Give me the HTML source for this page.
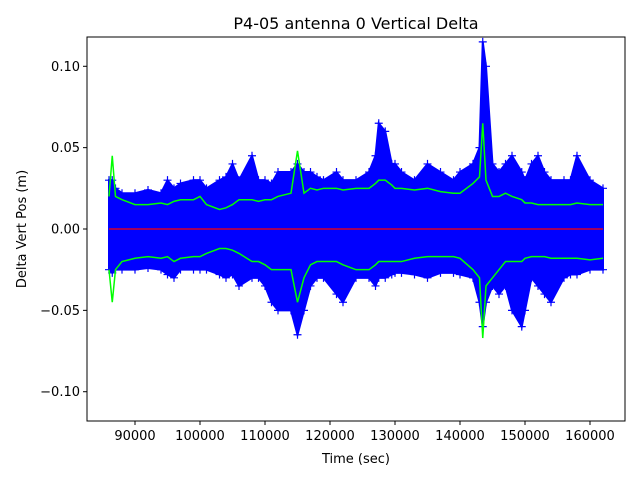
<!DOCTYPE html>
<html><head><meta charset="utf-8"><style>
body{margin:0;background:#fff;font-family:"Liberation Sans","DejaVu Sans",sans-serif}
svg text{font-family:"DejaVu Sans","Liberation Sans",sans-serif;font-size:13px;fill:#000}
</style></head><body>
<svg id="chart" width="640" height="480">
<rect width="640" height="480" fill="#fff"/>
<text x="356" y="29" text-anchor="middle" style="font-size:16px">P4-05 antenna 0 Vertical Delta</text>
<g id="plot"></g>
<g id="axes"></g>
<text x="356" y="463" text-anchor="middle">Time (sec)</text>
<text transform="translate(26,229) rotate(-90)" text-anchor="middle">Delta Vert Pos (m)</text>
</svg>
<script>
const times = [86000,86500,87000,88000,90000,92000,94000,95000,96000,97000,99000,100000,101000,103000,104000,105000,106000,108000,109000,110000,111000,112000,114000,115000,116000,117000,118000,119000,121000,122000,124000,126000,127000,127500,128500,129500,130000,131000,133000,135000,137000,139000,140000,142000,143000,143500,144000,145000,146000,147000,148000,149500,150000,151000,152000,153000,154000,156000,157000,158000,160000,162000];
const blueHigh = [0.03,0.03,0.025,0.022,0.022,0.024,0.022,0.03,0.025,0.028,0.03,0.03,0.025,0.03,0.032,0.04,0.03,0.045,0.03,0.03,0.028,0.035,0.035,0.04,0.035,0.035,0.032,0.03,0.035,0.03,0.03,0.035,0.045,0.065,0.06,0.04,0.04,0.035,0.03,0.04,0.035,0.03,0.035,0.04,0.05,0.115,0.1,0.04,0.035,0.04,0.045,0.035,0.03,0.04,0.045,0.035,0.03,0.03,0.03,0.045,0.03,0.025];
const blueLow = [-0.025,-0.027,-0.025,-0.025,-0.025,-0.024,-0.025,-0.028,-0.03,-0.025,-0.025,-0.025,-0.025,-0.028,-0.03,-0.028,-0.035,-0.03,-0.03,-0.035,-0.045,-0.05,-0.05,-0.065,-0.05,-0.035,-0.03,-0.03,-0.04,-0.045,-0.03,-0.03,-0.035,-0.03,-0.03,-0.028,-0.027,-0.027,-0.028,-0.03,-0.027,-0.027,-0.028,-0.03,-0.045,-0.06,-0.045,-0.035,-0.04,-0.035,-0.05,-0.06,-0.05,-0.03,-0.035,-0.04,-0.045,-0.03,-0.028,-0.028,-0.025,-0.025];
const greenHigh = [0.02,0.045,0.02,0.018,0.015,0.015,0.016,0.015,0.017,0.018,0.018,0.02,0.015,0.012,0.013,0.015,0.018,0.018,0.017,0.018,0.018,0.02,0.022,0.048,0.022,0.025,0.024,0.025,0.025,0.024,0.025,0.025,0.028,0.03,0.03,0.027,0.025,0.025,0.024,0.025,0.023,0.022,0.022,0.028,0.032,0.065,0.03,0.02,0.02,0.022,0.02,0.018,0.016,0.016,0.015,0.015,0.015,0.015,0.015,0.016,0.015,0.015];
const greenLow = [-0.025,-0.045,-0.025,-0.02,-0.018,-0.017,-0.018,-0.017,-0.02,-0.018,-0.017,-0.017,-0.015,-0.012,-0.012,-0.013,-0.015,-0.02,-0.02,-0.022,-0.025,-0.025,-0.025,-0.045,-0.03,-0.022,-0.02,-0.02,-0.02,-0.022,-0.025,-0.025,-0.022,-0.02,-0.02,-0.02,-0.02,-0.02,-0.018,-0.017,-0.017,-0.017,-0.018,-0.025,-0.03,-0.067,-0.035,-0.03,-0.025,-0.02,-0.02,-0.02,-0.018,-0.017,-0.017,-0.017,-0.018,-0.018,-0.018,-0.018,-0.019,-0.018];
const xTicks = [90000,100000,110000,120000,130000,140000,150000,160000];
const yTicks = [0.10,0.05,0.00,-0.05,-0.10];
const yTickLabels = ["0.10","0.05","0.00","\u22120.05","\u22120.10"];

const L=87,R=625,T=37,B=421;
const xMin=82615,xMax=165385,yMin=-0.118,yMax=0.118;
const sx=v=>L+(v-xMin)/(xMax-xMin)*(R-L);
const sy=v=>B-(v-yMin)/(yMax-yMin)*(B-T);
const NS='http://www.w3.org/2000/svg';
const plot=document.getElementById('plot'), axes=document.getElementById('axes');
function mk(tag,attrs,parent){const e=document.createElementNS(NS,tag);for(const k in attrs)e.setAttribute(k,attrs[k]);parent.appendChild(e);return e;}

let pts=times.map((t,i)=>sx(t)+','+sy(blueHigh[i]));
pts=pts.concat(times.map((t,i)=>sx(t)+','+sy(blueLow[i])).reverse());
const band=mk('polygon',{points:pts.join(' '),fill:'#0000ff',stroke:'#0000ff','stroke-width':2},plot);


times.forEach((t,i)=>{
  [blueHigh[i],blueLow[i]].forEach(v=>{
    const x=sx(t),y=sy(v);
    const m=mk('path',{d:`M${x-4},${y}H${x+4}M${x},${y-4}V${y+4}`,stroke:'#0000ff','stroke-width':1.2},plot);
    
    
  });
});
const red=mk('line',{x1:sx(times[0]),x2:sx(times[times.length-1]),y1:sy(0),y2:sy(0),stroke:'#ff0000','stroke-width':1.2},plot);


[greenHigh,greenLow].forEach((arr,k)=>{
  const g=mk('polyline',{points:times.map((t,i)=>sx(t)+','+sy(arr[i])).join(' '),fill:'none',stroke:'#00ff00','stroke-width':1.5},plot);
  
  
});
const fr=mk('rect',{x:L,y:T,width:R-L,height:B-T,fill:'none',stroke:'#000','stroke-width':1},axes);


xTicks.forEach(v=>{
  const x=sx(v);
  const tk=mk('line',{x1:x,x2:x,y1:B,y2:B+4,stroke:'#000'},axes);
  
  
  const tx=mk('text',{x:x,y:B+19,'text-anchor':'middle'},axes);tx.textContent=v;
  
  
});
yTicks.forEach((v,i)=>{
  const y=sy(v);
  const tk=mk('line',{x1:L-4,x2:L,y1:y,y2:y,stroke:'#000'},axes);
  
  
  const tx=mk('text',{x:L-7,y:y+4.5,'text-anchor':'end'},axes);tx.textContent=yTickLabels[i];
  
  
});
</script>
</body></html>
